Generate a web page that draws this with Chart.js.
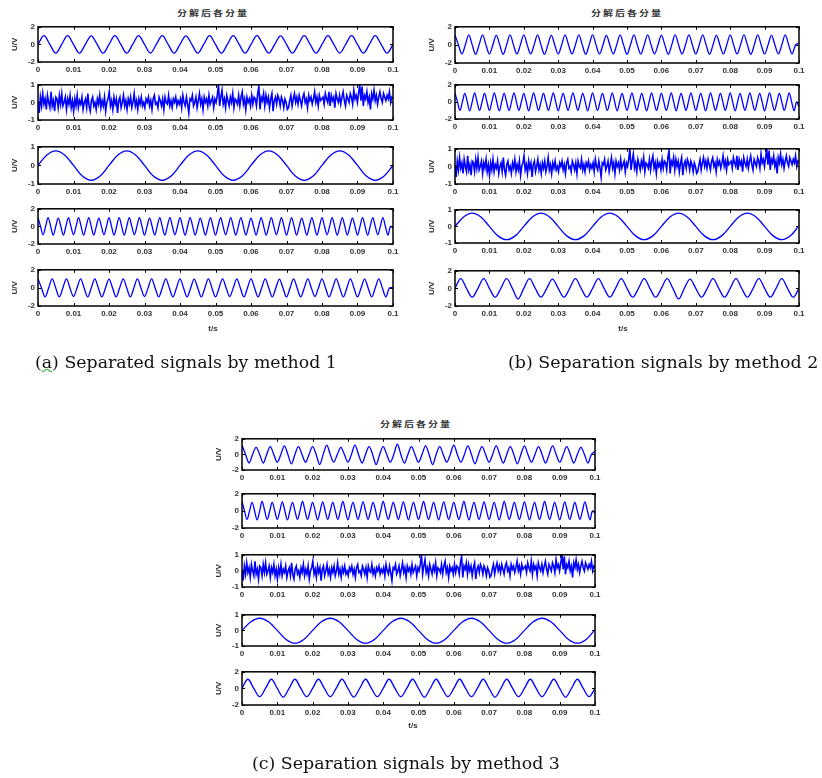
<!DOCTYPE html>
<html><head><meta charset="utf-8">
<script src="https://cdn.jsdelivr.net/npm/chart.js@4.4.1/dist/chart.umd.min.js"></script>
<style>
html,body{margin:0;padding:0;background:#fff;}
body{width:822px;height:778px;position:relative;overflow:hidden;}
canvas{position:absolute;}
.t{position:absolute;white-space:nowrap;color:#333;}
.ttl{font:bold 10px "Noto Sans CJK SC";letter-spacing:2px;transform:translate(-50%,-50%) scaleY(0.75);}
.xl{font:bold 8px "Liberation Sans";transform:translate(-50%,-50%);}
.cap{font:17px "DejaVu Serif";color:#111;transform-origin:0 50%;line-height:20px;}
.sq{text-decoration:underline wavy #3a3;text-underline-offset:0px;text-decoration-thickness:1px;}
</style></head><body>
<script>
// ---------- data ----------
const T_END = 0.1; // every record spans 0 .. 0.1 s, samples evenly spaced
const X_TICK_LABELS = ['0','0.01','0.02','0.03','0.04','0.05','0.06','0.07','0.08','0.09','0.1'];
const Y_TICK_LABELS_2 = ['-2','0','2'];
const Y_TICK_LABELS_1 = ['-1','0','1'];
const TITLE_TEXT = '分解后各分量';
const X_LABEL = 't/s';
const Y_LABEL = 'U/V';
const CAPTIONS = ['(a) Separated signals by method 1','(b) Separation signals by method 2','(c) Separation signals by method 3'];

// 150 Hz component (quarter-period samples)
const A1 = [0,1.0,0,-1.0, 0,1.0,0,-1.0, 0,0.98,0,-1.0, 0,1.0,0,-1.0, 0,1.0,0,-0.98,
  0,1.0,0,-1.0, 0,0.98,0,-1.0, 0,1.0,0,-1.0, 0,1.0,0,-1.0, 0,1.0,0,-1.0,
  0,0.98,0,-1.0, 0,1.0,0,-1.0, 0,1.0,0,-0.98, 0,1.0,0,-1.0, 0,1.0,0,-1.0, 0];
// noise component
const NOISE = [
 0.1,-0.6,0.3,-0.2,0.5,-0.1,0.2,-0.4,0.4,0.0,-0.3,0.6,-0.2,0.1,-0.5,0.3,0.2,-0.3,0.4,-0.1,0.5,-0.2,0.0,0.3,-0.4,0.2,-0.1,0.4,-0.3,0.1,
 -0.5,0.2,-0.2,0.4,-0.3,0.1,-0.1,0.3,-0.4,0.0,0.2,-0.3,0.5,-0.2,-0.5,0.1,0.3,-0.2,0.0,-0.4,0.2,-0.1,0.4,-0.3,0.1,-0.2,0.3,-0.5,0.0,0.2,
 0.6,-0.2,0.1,-0.4,0.3,-0.1,0.2,-0.6,0.1,0.3,-0.3,0.0,0.4,-0.2,0.1,-0.4,0.2,-0.1,0.3,-0.3,0.0,0.5,-0.2,0.1,-0.4,0.2,-0.1,0.3,-0.2,0.0,
 -0.3,0.2,0.0,0.3,-0.2,0.1,-0.4,0.2,0.4,-0.1,0.0,-0.3,0.3,0.1,-0.2,0.2,-0.4,0.3,0.0,-0.1,0.4,-0.2,0.1,-0.3,0.2,0.0,0.3,-0.2,0.1,-0.1,
 0.2,-0.3,0.4,0.0,-0.2,0.3,-0.1,-0.6,0.2,0.1,0.4,-0.2,0.0,0.3,-0.3,0.1,0.5,-0.1,0.2,-0.4,0.3,0.0,0.2,-0.2,0.4,-0.1,0.1,0.3,-0.3,0.2,
 0.0,0.4,1.0,-0.2,0.3,0.7,-0.1,0.2,-0.3,0.4,0.1,-0.2,0.3,0.0,0.5,-0.3,0.2,0.1,-0.1,0.4,-0.2,0.3,0.6,-0.1,0.2,-0.4,0.3,0.0,0.2,-0.2,
 0.4,-0.1,0.3,0.2,-0.2,0.5,0.9,-0.4,0.3,0.1,0.5,-0.2,0.4,0.0,0.3,-0.3,0.2,0.5,-0.5,0.1,0.3,-0.1,0.4,0.2,-0.2,0.3,0.1,-0.3,0.2,0.0,
 -0.4,-0.3,0.1,0.4,-0.2,0.2,0.5,0.0,0.3,-0.1,0.4,0.1,-0.2,0.3,0.5,0.0,0.2,-0.3,0.4,0.1,0.3,-0.1,0.2,0.6,0.0,0.3,-0.2,0.4,0.1,0.2,
 0.3,-0.1,0.5,0.2,0.0,0.6,-0.2,0.4,0.1,0.3,-0.3,0.5,0.2,0.0,0.4,-0.1,0.3,0.6,0.1,-0.2,0.4,0.2,0.0,0.5,0.3,-0.1,0.7,0.2,0.4,0.0,
 0.5,1.0,0.1,0.9,-0.2,0.4,0.2,0.6,0.0,0.3,-0.4,0.5,0.2,0.7,0.1,0.4,-0.1,0.3,0.6,0.2,0.0,0.5,0.3,0.1,0.4,0.2,0.6,0.0,0.3,0.2];
// 50 Hz component (eighth-period samples)
const A3 = [0,0.56,0.78,0.56,0,-0.57,-0.8,-0.57, 0,0.56,0.78,0.56,0,-0.57,-0.8,-0.57,
  0,0.56,0.78,0.56,0,-0.57,-0.8,-0.57, 0,0.56,0.78,0.56,0,-0.57,-0.8,-0.57,
  0,0.56,0.78,0.56,0,-0.57,-0.8,-0.57, 0];
// 350 Hz component
const A4 = [
 1.0,0,-0.95,0, 1.0,0,-1.0,0, 0.95,0,-1.0,0, 1.0,0,-0.95,0, 1.0,0,-1.0,0,
 1.0,0,-1.0,0, 0.95,0,-0.95,0, 1.0,0,-1.0,0, 1.0,0,-1.0,0, 1.0,0,-0.95,0,
 1.0,0,-1.0,0, 0.95,0,-1.0,0, 1.0,0,-1.0,0, 1.0,0,-0.95,0, 1.0,0,-1.0,0,
 1.0,0,-1.0,0, 0.95,0,-1.0,0, 1.0,0,-1.0,0, 1.0,0,-0.95,0, 1.0,0,-1.0,0,
 1.0,0,-1.0,0, 0.95,0,-1.0,0, 1.0,0,-1.0,0, 1.0,0,-0.95,0, 1.0,0,-1.0,0,
 1.0,0,-1.0,0, 0.95,0,-1.0,0, 1.0,0,-1.0,0, 1.0,0,-0.95,0, 1.0,0,-1.0,0,
 1.0,0,-1.0,0, 0.95,0,-1.0,0, 1.0,0,-1.0,0, 1.0,0,-0.95,0, 1.0,0,-1.0,0, -0.2];
// 250 Hz component
const A5 = [
 1.0,0,-1.0,0, 1.0,0,-1.0,0, 1.0,0,-0.95,0, 1.0,0,-1.0,0, 1.0,0,-1.0,0,
 0.98,0,-1.0,0, 1.0,0,-1.0,0, 1.0,0,-0.95,0, 1.0,0,-1.0,0, 1.0,0,-1.0,0,
 1.0,0,-1.0,0, 0.98,0,-1.0,0, 1.0,0,-1.0,0, 1.0,0,-0.95,0, 1.0,0,-1.0,0,
 1.0,0,-1.0,0, 1.0,0,-1.0,0, 0.98,0,-1.0,0, 1.0,0,-1.0,0, 1.0,0,-0.95,0,
 1.0,0,-1.0,0, 1.0,0,-1.0,0, 1.0,0,-1.0,0, 0.98,0,-1.0,0, 1.0,0,-1.0,0, 0];

const B1 = [
 1.1,0,-1.0,0, 1.1,0,-1.05,0, 1.1,0,-1.0,0, 1.05,0,-1.05,0, 1.1,0,-1.0,0,
 1.1,0,-1.0,0, 1.1,0,-1.05,0, 1.05,0,-1.0,0, 1.1,0,-1.0,0, 1.1,0,-1.05,0,
 1.1,0,-1.0,0, 1.05,0,-1.0,0, 1.1,0,-1.05,0, 1.1,0,-1.0,0, 1.1,0,-1.0,0,
 1.05,0,-1.05,0, 1.1,0,-1.0,0, 1.1,0,-1.0,0, 1.1,0,-1.05,0, 1.05,0,-1.0,0,
 1.1,0,-1.0,0, 1.1,0,-1.05,0, 1.1,0,-1.0,0, 1.05,0,-1.0,0, 1.1,0,-1.0,0, 0.2];
const B2 = [
 1.05,0,-1.0,0, 1.0,0,-1.05,0, 1.05,0,-1.0,0, 1.0,0,-1.0,0, 1.05,0,-1.05,0,
 1.0,0,-1.0,0, 1.05,0,-1.0,0, 1.0,0,-1.05,0, 1.05,0,-1.0,0, 1.0,0,-1.0,0,
 1.05,0,-1.05,0, 1.0,0,-1.0,0, 1.05,0,-1.0,0, 1.0,0,-1.05,0, 1.05,0,-1.0,0,
 1.0,0,-1.0,0, 1.05,0,-1.05,0, 1.0,0,-1.0,0, 1.05,0,-1.0,0, 1.0,0,-1.05,0,
 1.05,0,-1.0,0, 1.0,0,-1.0,0, 1.05,0,-1.05,0, 1.0,0,-1.0,0, 1.05,0,-1.0,0,
 1.0,0,-1.05,0, 1.05,0,-1.0,0, 1.0,0,-1.0,0, 1.05,0,-1.05,0, 1.0,0,-1.0,0,
 1.05,0,-1.0,0, 1.0,0,-1.05,0, 1.05,0,-1.0,0, 1.0,0,-1.0,0, 1.05,0,-1.05,0, -0.6];
const B4 = [0,0.57,0.8,0.57,0,-0.57,-0.8,-0.57, 0,0.57,0.8,0.57,0,-0.57,-0.8,-0.57,
  0,0.57,0.8,0.57,0,-0.57,-0.8,-0.57, 0,0.57,0.8,0.57,0,-0.57,-0.8,-0.57,
  0,0.57,0.8,0.57,0,-0.57,-0.8,-0.57, 0.05];
const B5 = [0,1.1,0,-1.0, 0,1.1,0,-1.0, 0,1.1,0,-1.2, 0,1.1,0,-1.0, 0,1.05,0,-1.0,
  0,1.1,0,-1.0, 0,1.1,0,-1.0, 0,1.1,0,-1.0, 0,1.1,0,-1.0, 0,1.1,0,-1.2,
  0,1.05,0,-1.0, 0,1.1,0,-1.0, 0,1.1,0,-1.0, 0,1.1,0,-1.0, 0,1.1,0,-1.0, 0];

const C1 = [
 1.2,0,-1.1,0, 0.9,0,-1.1,0, 1.0,0,-1.0,0, 1.1,0,-1.2,0, 1.0,0,-1.0,0,
 1.0,0,-1.3,0, 1.2,0,-1.0,0, 0.9,0,-1.0,0, 1.2,0,-1.1,0, 1.0,0,-1.3,0,
 1.0,0,-1.0,0, 1.3,0,-1.1,0, 1.0,0,-1.0,0, 1.1,0,-1.3,0, 1.0,0,-1.0,0,
 1.2,0,-1.0,0, 1.1,0,-1.2,0, 1.0,0,-1.0,0, 1.1,0,-1.1,0, 1.0,0,-1.2,0,
 1.1,0,-1.0,0, 1.0,0,-1.1,0, 1.1,0,-1.0,0, 1.0,0,-1.1,0, 0.9,0,-1.1,0, 0.4];
const C2 = [
 1.1,0,-1.0,0, 1.0,0,-1.05,0, 1.1,0,-1.0,0, 1.0,0,-1.0,0, 1.05,0,-1.05,0,
 1.0,0,-1.0,0, 1.1,0,-1.0,0, 1.0,0,-1.05,0, 1.05,0,-1.0,0, 1.0,0,-1.0,0,
 1.1,0,-1.05,0, 1.0,0,-1.0,0, 1.05,0,-1.0,0, 1.0,0,-1.05,0, 1.1,0,-1.0,0,
 1.0,0,-1.0,0, 1.05,0,-1.05,0, 1.0,0,-1.0,0, 1.1,0,-1.0,0, 1.0,0,-1.05,0,
 1.05,0,-1.0,0, 1.0,0,-1.0,0, 1.1,0,-1.05,0, 1.0,0,-1.0,0, 1.05,0,-1.0,0,
 1.0,0,-1.05,0, 1.1,0,-1.0,0, 1.0,0,-1.0,0, 1.05,0,-1.05,0, 1.0,0,-1.0,0,
 1.1,0,-1.0,0, 1.0,0,-1.05,0, 1.05,0,-1.0,0, 1.0,0,-1.0,0, 1.05,0,-1.05,0, -0.3];
const C4 = [0,0.55,0.78,0.55,0,-0.58,-0.82,-0.58, 0,0.55,0.78,0.55,0,-0.58,-0.82,-0.58,
  0,0.55,0.78,0.55,0,-0.58,-0.82,-0.58, 0,0.55,0.78,0.55,0,-0.58,-0.82,-0.58,
  0,0.55,0.78,0.55,0,-0.58,-0.82,-0.58, 0.05];
const C5 = [0,1.1,0,-1.0, 0,1.1,0,-1.05, 0,1.1,0,-1.0, 0,1.1,0,-1.0, 0,1.1,0,-1.05,
  0,1.1,0,-1.0, 0,1.1,0,-1.0, 0,1.1,0,-1.05, 0,1.1,0,-1.0, 0,1.1,0,-1.0,
  0,1.1,0,-1.05, 0,1.1,0,-1.0, 0,1.1,0,-1.0, 0,1.1,0,-1.05, 0,1.1,0,-1.0, 0];

const PANEL_SERIES = {a:[A1,NOISE,A3,A4,A5], b:[B1,B2,NOISE,B4,B5], c:[C1,C2,NOISE,C4,C5]};
const PANEL_YMAX   = {a:[2,1,1,2,2], b:[2,2,1,1,2], c:[2,2,1,1,2]};
const PANEL_YLABEL = {a:[true,true,true,true,true], b:[true,false,true,true,true], c:[true,false,true,true,true]};

// ---------- layout ----------
const BOXES = {
  a:{left:38, width:355, rows:[[24,62],[82,120],[144,184],[206,244],[267,306]], title:[213,13], xl:[213,328], cap:[35,352,302]},
  b:{left:455,width:344, rows:[[24,63],[82,119],[146,184],[207,243],[268,306]], title:[627,13], xl:[623,328], cap:[508,352,310]},
  c:{left:242,width:353, rows:[[436,470],[491,528],[552,587],[612,646],[669,705]], title:[416,424], xl:[413,725], cap:[252,753,308]}
};
const PADL = 30, PADT = 5, PADR = 12, PADB = 18;

const framePlugin = {
  id:'frame',
  afterDatasetsDraw(chart){
    const {ctx, chartArea:{left,top,right,bottom}, scales:{x,y}} = chart;
    ctx.save(); ctx.strokeStyle='#000'; ctx.lineWidth=1;
    ctx.beginPath();
    x.ticks.forEach(t=>{const p=Math.round(x.getPixelForValue(t.value))+0.5;
      ctx.moveTo(p,bottom); ctx.lineTo(p,bottom-3); ctx.moveTo(p,top); ctx.lineTo(p,top+3);});
    y.ticks.forEach(t=>{const p=Math.round(y.getPixelForValue(t.value))+0.5;
      ctx.moveTo(left,p); ctx.lineTo(left+3,p); ctx.moveTo(right,p); ctx.lineTo(right-3,p);});
    ctx.stroke();
    ctx.lineWidth=1.5; ctx.strokeRect(left,top,right-left,bottom-top);
    ctx.restore();
  }
};

function addText(cls, txt, x, y){
  const d=document.createElement('div'); d.className='t '+cls; d.textContent=txt;
  d.style.left=x+'px'; d.style.top=y+'px'; document.body.appendChild(d); return d;
}

function makeChart(box, top, bottom, values, yMax, showY){
  const cv=document.createElement('canvas');
  const w=box.width+PADL+PADR, h=(bottom-top)+PADT+PADB;
  cv.width=w; cv.height=h;
  cv.style.left=(box.left-PADL)+'px'; cv.style.top=(top-PADT)+'px';
  cv.style.width=w+'px'; cv.style.height=h+'px';
  document.body.appendChild(cv);
  const n=values.length;
  const pts=values.map((v,i)=>({x:T_END*i/(n-1), y:v}));
  const yLabels = yMax===2 ? Y_TICK_LABELS_2 : Y_TICK_LABELS_1;
  const tickFont={family:'Liberation Sans', size:8, weight:'bold'};
  const isNoise = values===NOISE;
  new Chart(cv,{
    type:'line',
    data:{datasets:[{data:pts, borderColor:'#0000ff', borderWidth:isNoise?1.6:1.3, pointRadius:0, tension:isNoise?0:0.35, fill:false}]},
    options:{
      responsive:false, animation:false, events:[],
      layout:{padding:{left:0,top:PADT,right:PADR,bottom:0}},
      plugins:{legend:{display:false}, tooltip:{enabled:false}},
      scales:{
        x:{type:'linear', min:0, max:T_END,
           grid:{display:false, drawTicks:false}, border:{display:false},
           ticks:{stepSize:0.01, autoSkip:false, maxRotation:0, padding:3, font:tickFont, color:'#333',
                  callback:(v,i)=>X_TICK_LABELS[i]},
           afterFit:s=>{s.height=PADB;}},
        y:{type:'linear', min:-yMax, max:yMax,
           grid:{display:false, drawTicks:false}, border:{display:false},
           ticks:{stepSize:yMax, padding:3, font:tickFont, color:'#333', callback:(v,i)=>yLabels[i]},
           title:{display:showY, text:Y_LABEL, font:{family:'Liberation Sans', size:8, weight:'bold'}, color:'#333', padding:{top:2,bottom:0}},
           afterFit:s=>{s.width=PADL;}}
      }
    },
    plugins:[framePlugin]
  });
}

const caps=[];
['a','b','c'].forEach((k,pi)=>{
  const box=BOXES[k];
  box.rows.forEach((r,i)=>makeChart(box, r[0], r[1], PANEL_SERIES[k][i], PANEL_YMAX[k][i], PANEL_YLABEL[k][i]));
  addText('ttl', TITLE_TEXT, box.title[0], box.title[1]);
  addText('xl', X_LABEL, box.xl[0], box.xl[1]);
  const c=document.createElement('div'); c.className='t cap';
  c.style.left=box.cap[0]+'px'; c.style.top=box.cap[1]+'px';
  if(k==='a'){
    c.appendChild(document.createTextNode('('));
    const s=document.createElement('span'); s.className='sq'; s.textContent='a'; c.appendChild(s);
    c.appendChild(document.createTextNode(CAPTIONS[pi].slice(2)));
  } else c.textContent=CAPTIONS[pi];
  document.body.appendChild(c); caps.push([c, box.cap[2]]);
});
function fitCaps(){ caps.forEach(([c,w])=>{c.style.transform='none'; c.style.transform='scaleX('+(w/c.offsetWidth)+')';}); }
fitCaps();
if(document.fonts&&document.fonts.ready) document.fonts.ready.then(fitCaps);
</script>
</body></html>
